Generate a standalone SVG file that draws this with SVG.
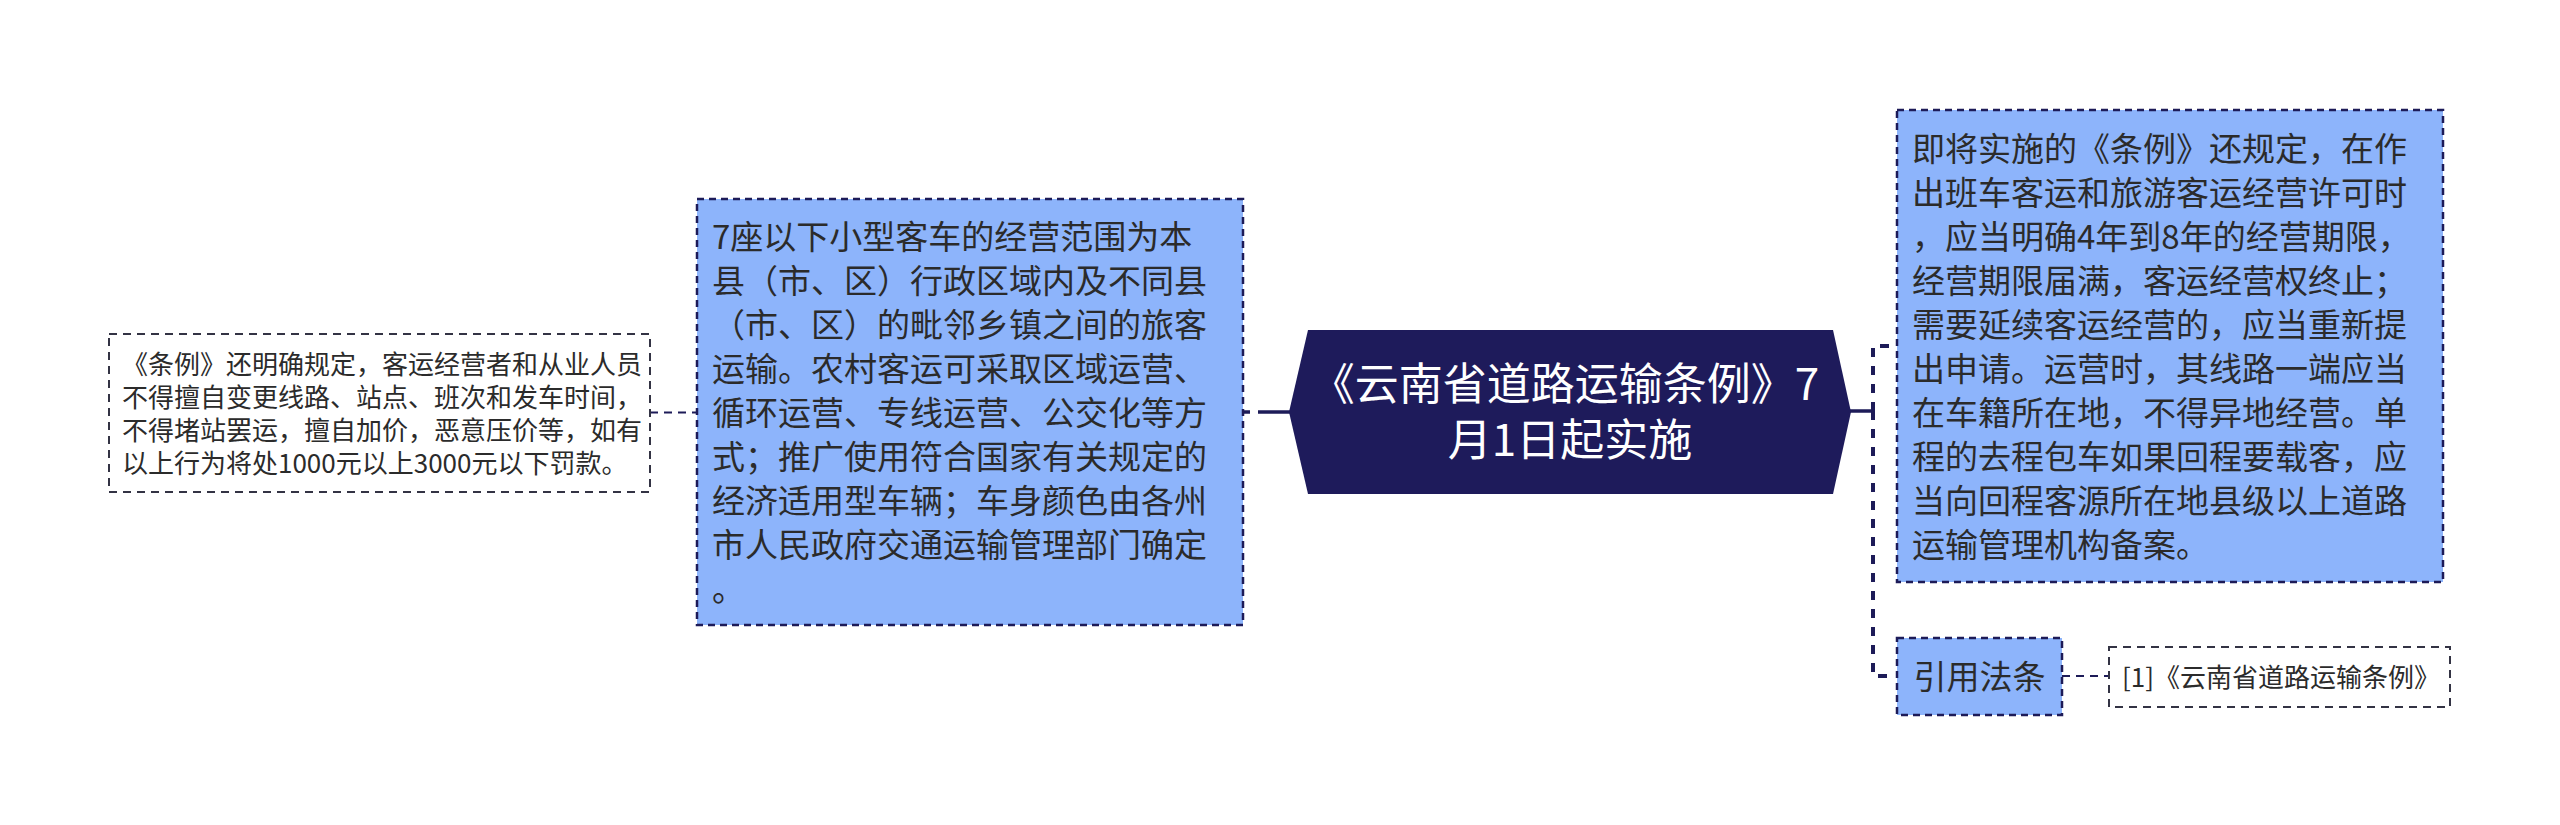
<svg xmlns="http://www.w3.org/2000/svg" width="2560" height="825" viewBox="0 0 2560 825">
<style>
.bg{fill:#ffffff}
.blue{fill:#8db4fb;stroke:#1d1b58;stroke-width:2.5;stroke-dasharray:7 5}
.plain{fill:#ffffff;stroke:#333344;stroke-width:2;stroke-dasharray:8 6}
.hex{fill:#1e1b5b}
.t-center{font-family:"Noto Sans CJK SC","Noto Sans",sans-serif;font-size:44px;fill:#ffffff;text-anchor:middle}
.t-blue{font-family:"Noto Sans CJK SC","Noto Sans",sans-serif;font-size:33px;fill:#2b2b2b}
.t-plain{font-family:"Noto Sans CJK SC","Noto Sans",sans-serif;font-size:26px;fill:#2b2b2b}
.c-solid{fill:none;stroke:#1d1b58;stroke-width:3.5}
.c-trunk{fill:none;stroke:#1d1b58;stroke-width:4;stroke-dasharray:9 9}
.c-thin{fill:none;stroke:#1d1b58;stroke-width:2;stroke-dasharray:8 6}
</style>
<rect class="bg" x="0" y="0" width="2560" height="825"/>
<g id="connectors">
  <line class="c-thin" x1="650" y1="412.5" x2="697" y2="412.5"/>
  <line class="c-solid" x1="1244" y1="412" x2="1250" y2="412"/>
  <line class="c-solid" x1="1258" y1="412" x2="1290" y2="412"/>
  <line class="c-solid" x1="1850" y1="411" x2="1873" y2="411"/>
  <path class="c-trunk" d="M1873,411 V346 H1897"/>
  <path class="c-trunk" d="M1873,411 V676 H1897"/>
  <line class="c-thin" x1="2062" y1="676" x2="2109" y2="676"/>
</g>
<g id="node-center">
  <polygon class="hex" points="1308,330 1833,330 1851,412 1833,494 1308,494 1289,412"/>
  <text class="t-center">
    <tspan x="1570" y="400">《云南省道路运输条例》7</tspan>
    <tspan x="1570" y="456">月1日起实施</tspan>
  </text>
</g>
<g id="node-left">
  <rect class="blue" x="697" y="199" width="546" height="426"/>
  <text class="t-blue">
    <tspan x="712" y="248.5">7座以下小型客车的经营范围为本</tspan>
    <tspan x="712" y="292.5">县（市、区）行政区域内及不同县</tspan>
    <tspan x="712" y="336.5">（市、区）的毗邻乡镇之间的旅客</tspan>
    <tspan x="712" y="380.5">运输。农村客运可采取区域运营、</tspan>
    <tspan x="712" y="424.5">循环运营、专线运营、公交化等方</tspan>
    <tspan x="712" y="468.5">式；推广使用符合国家有关规定的</tspan>
    <tspan x="712" y="512.5">经济适用型车辆；车身颜色由各州</tspan>
    <tspan x="712" y="556.5">市人民政府交通运输管理部门确定</tspan>
    <tspan x="712" y="600.5">。</tspan>
  </text>
</g>
<g id="node-far-left">
  <rect class="plain" x="109" y="334" width="541" height="158"/>
  <text class="t-plain">
    <tspan x="122" y="373.5">《条例》还明确规定，客运经营者和从业人员</tspan>
    <tspan x="122" y="406.5">不得擅自变更线路、站点、班次和发车时间，</tspan>
    <tspan x="122" y="439.5">不得堵站罢运，擅自加价，恶意压价等，如有</tspan>
    <tspan x="122" y="472.5">以上行为将处1000元以上3000元以下罚款。</tspan>
  </text>
</g>
<g id="node-right">
  <rect class="blue" x="1897" y="110" width="546" height="472"/>
  <text class="t-blue">
    <tspan x="1912" y="160.5">即将实施的《条例》还规定，在作</tspan>
    <tspan x="1912" y="204.5">出班车客运和旅游客运经营许可时</tspan>
    <tspan x="1912" y="248.5">，应当明确4年到8年的经营期限，</tspan>
    <tspan x="1912" y="292.5">经营期限届满，客运经营权终止；</tspan>
    <tspan x="1912" y="336.5">需要延续客运经营的，应当重新提</tspan>
    <tspan x="1912" y="380.5">出申请。运营时，其线路一端应当</tspan>
    <tspan x="1912" y="424.5">在车籍所在地，不得异地经营。单</tspan>
    <tspan x="1912" y="468.5">程的去程包车如果回程要载客，应</tspan>
    <tspan x="1912" y="512.5">当向回程客源所在地县级以上道路</tspan>
    <tspan x="1912" y="556.5">运输管理机构备案。</tspan>
  </text>
</g>
<g id="node-cite">
  <rect class="blue" x="1897" y="638" width="165" height="77"/>
  <text class="t-blue" x="1979.5" y="688.5" text-anchor="middle">引用法条</text>
</g>
<g id="node-cite-ref">
  <rect class="plain" x="2109" y="647" width="341" height="60"/>
  <text class="t-plain" x="2122" y="687">[1]《云南省道路运输条例》</text>
</g>
</svg>
